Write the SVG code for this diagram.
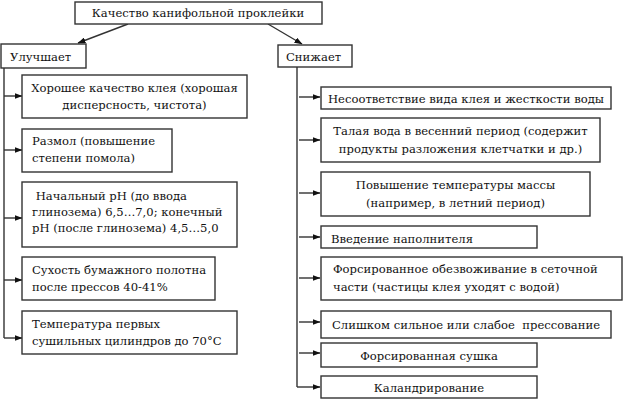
<svg xmlns="http://www.w3.org/2000/svg" width="623" height="400" viewBox="0 0 623 400">
<style>
.box{fill:#fff;stroke:#333;stroke-width:1.4}
.t{font-size:11.6px;fill:#111}
.c{text-anchor:middle}
.ln{stroke:#333;stroke-width:1.4;fill:none}
</style>
<defs>
<marker id="ah" markerWidth="8" markerHeight="6" refX="7.5" refY="3" orient="auto" markerUnits="userSpaceOnUse">
<path d="M0,0 L8,3 L0,6 Z" fill="#111"/>
</marker>
</defs>
<rect width="623" height="400" fill="#fff"/>
<g id="connectors">
<line class="ln" x1="128" y1="24" x2="78" y2="43" marker-end="url(#ah)"/>
<line class="ln" x1="268" y1="24" x2="302" y2="44" marker-end="url(#ah)"/>
<path class="ln" d="M4,68 V338"/>
<line class="ln" x1="4" y1="96" x2="22" y2="96" marker-end="url(#ah)"/>
<line class="ln" x1="4" y1="150" x2="22" y2="150" marker-end="url(#ah)"/>
<line class="ln" x1="4" y1="218" x2="22" y2="218" marker-end="url(#ah)"/>
<line class="ln" x1="4" y1="280" x2="22" y2="280" marker-end="url(#ah)"/>
<line class="ln" x1="4" y1="338" x2="22" y2="338" marker-end="url(#ah)"/>
<path class="ln" d="M297,67 V387"/>
<line class="ln" x1="299" y1="97" x2="320" y2="97" marker-end="url(#ah)"/>
<line class="ln" x1="299" y1="140" x2="320" y2="140" marker-end="url(#ah)"/>
<line class="ln" x1="299" y1="193" x2="320" y2="193" marker-end="url(#ah)"/>
<line class="ln" x1="299" y1="237" x2="320" y2="237" marker-end="url(#ah)"/>
<line class="ln" x1="299" y1="278" x2="320" y2="278" marker-end="url(#ah)"/>
<line class="ln" x1="299" y1="322" x2="320" y2="322" marker-end="url(#ah)"/>
<line class="ln" x1="299" y1="353" x2="320" y2="353" marker-end="url(#ah)"/>
<line class="ln" x1="297" y1="387" x2="320" y2="387" marker-end="url(#ah)"/>
</g>
<g font-family="DejaVu Serif, serif">
<g id="root">
<rect class="box" x="75" y="2" width="247" height="22"/>
<text class="t c" x="198" y="17" font-size="12.4">Качество канифольной проклейки</text>
</g>
<g id="improves">
<rect class="box" x="1" y="44" width="85" height="24"/>
<text class="t" x="10" y="61" font-size="12.4">Улучшает</text>
</g>
<g id="reduces">
<rect class="box" x="278" y="45" width="74" height="22"/>
<text class="t" x="286" y="61">Снижает</text>
</g>
<g id="l1">
<rect class="box" x="22" y="75" width="225" height="43"/>
<text class="t c" x="134.5" y="92">Хорошее качество клея (хорошая</text>
<text class="t c" x="134.5" y="109">дисперсность, чистота)</text>
</g>
<g id="l2">
<rect class="box" x="22" y="129" width="150" height="43"/>
<text class="t" x="32" y="145">Размол (повышение</text>
<text class="t" x="32" y="162">степени помола)</text>
</g>
<g id="l3">
<rect class="box" x="22" y="182" width="215" height="65"/>
<text class="t" x="32" y="200" xml:space="preserve"> Начальный pH (до ввода</text>
<text class="t" x="32" y="216">глинозема) 6,5…7,0; конечный</text>
<text class="t" x="32" y="232">pH (после глинозема) 4,5…5,0</text>
</g>
<g id="l4">
<rect class="box" x="22" y="257" width="193" height="43"/>
<text class="t" x="32" y="274">Сухость бумажного полотна</text>
<text class="t" x="32" y="291">после прессов 40-41%</text>
</g>
<g id="l5">
<rect class="box" x="22" y="311" width="215" height="43"/>
<text class="t" x="32" y="328">Температура первых</text>
<text class="t" x="32" y="345">сушильных цилиндров до 70°С</text>
</g>
<g id="r1">
<rect class="box" x="321" y="87" width="290" height="22"/>
<text class="t c" x="466" y="103">Несоответствие вида клея и жесткости воды</text>
</g>
<g id="r2">
<rect class="box" x="321" y="118" width="279" height="44"/>
<text class="t c" x="460.5" y="135">Талая вода в весенний период (содержит</text>
<text class="t c" x="460.5" y="153">продукты разложения клетчатки и др.)</text>
</g>
<g id="r3">
<rect class="box" x="321" y="172" width="269" height="44"/>
<text class="t c" x="455.5" y="189">Повышение температуры массы</text>
<text class="t c" x="455.5" y="207">(например, в летний период)</text>
</g>
<g id="r4">
<rect class="box" x="321" y="226" width="216" height="22"/>
<text class="t" x="331" y="243">Введение наполнителя</text>
</g>
<g id="r5">
<rect class="box" x="321" y="257" width="301" height="43"/>
<text class="t" x="333" y="273">Форсированное обезвоживание в сеточной</text>
<text class="t" x="333" y="291">части (частицы клея уходят с водой)</text>
</g>
<g id="r6">
<rect class="box" x="321" y="311" width="290" height="27"/>
<text class="t" x="332" y="329" xml:space="preserve">Слишком сильное или слабое  прессование</text>
</g>
<g id="r7">
<rect class="box" x="321" y="343" width="216" height="24"/>
<text class="t c" x="429" y="360">Форсированная сушка</text>
</g>
<g id="r8">
<rect class="box" x="321" y="376" width="216" height="22"/>
<text class="t c" x="429" y="392">Каландрирование</text>
</g>
</g>
</svg>
